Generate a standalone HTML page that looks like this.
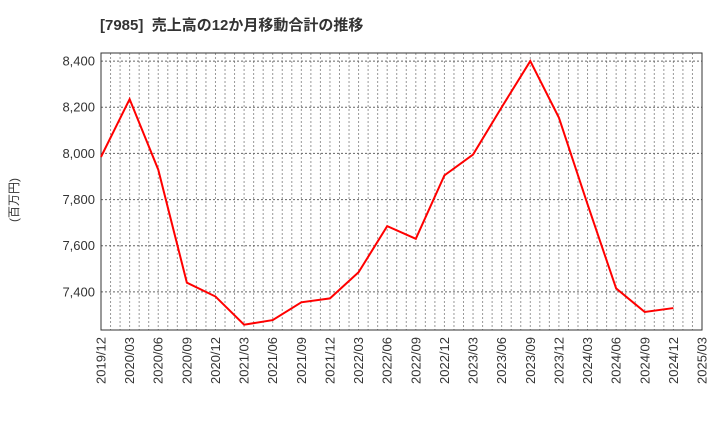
<!DOCTYPE html>
<html><head><meta charset="utf-8"><style>
body{margin:0;background:#fff;font-family:"Liberation Sans","Noto Sans CJK JP",sans-serif}
</style></head><body>
<svg width="720" height="440" xmlns="http://www.w3.org/2000/svg" font-family="Liberation Sans, Noto Sans CJK JP, sans-serif">
<text x="100" y="30" font-size="15" font-weight="bold" fill="#333">[7985]&#160;&#160;売上高の12か月移動合計の推移</text>
<text transform="translate(18,200) rotate(-90)" text-anchor="middle" font-size="12" fill="#333">(百万円)</text>
<g id="grid"></g><g id="axes"></g><g id="series"></g>
</svg>
<script>
const categories=["2019/12","2020/03","2020/06","2020/09","2020/12","2021/03","2021/06","2021/09","2021/12","2022/03","2022/06","2022/09","2022/12","2023/03","2023/06","2023/09","2023/12","2024/03","2024/06","2024/09","2024/12","2025/03"];
const salesValues=[7985,8235,7930,7440,7380,7258,7278,7355,7372,7485,7685,7630,7905,7995,8200,8400,8155,7780,7415,7313,7330];
const yTicks=[7400,7600,7800,8000,8200,8400];
const NS="http://www.w3.org/2000/svg";
const L=101,R=702,T=53,B=330,yMin=7235,yMax=8435;
const nQ=categories.length-1;
function xQ(i){return L+(R-L)*i/nQ;}
function xM(m){return L+(R-L)*m/(nQ*3);}
function y(v){return B-(v-yMin)/(yMax-yMin)*(B-T);}
function mk(tag,attrs,parent){const e=document.createElementNS(NS,tag);for(const k in attrs)e.setAttribute(k,attrs[k]);parent.appendChild(e);return e;}
const grid=document.getElementById('grid'),axes=document.getElementById('axes'),series=document.getElementById('series');
for(let m=1;m<nQ*3;m++){const l=mk('line',{x1:xM(m),x2:xM(m),y1:T,y2:B,stroke:'#999','stroke-dasharray':'2,2','stroke-width':1},grid);

}
yTicks.forEach(v=>{const l=mk('line',{x1:L,x2:R,y1:y(v),y2:y(v),stroke:'#666','stroke-dasharray':'2,2','stroke-width':1},grid);


const t=mk('text',{x:L-6,y:y(v)+4.5,'text-anchor':'end','font-size':13,fill:'#333'},axes);t.textContent=v.toLocaleString('en-US');

});
const frame=mk('rect',{x:L,y:T,width:R-L,height:B-T,fill:'none',stroke:'#333','stroke-width':1},axes);


categories.forEach((c,i)=>{const t=mk('text',{transform:`translate(${xQ(i)+4.5},${B+7}) rotate(-90)`,'text-anchor':'end','font-size':13,fill:'#333'},axes);t.textContent=c;

});
const pts=salesValues.map((v,i)=>xQ(i)+','+y(v)).join(' ');
const pl=mk('polyline',{points:pts,fill:'none',stroke:'#f00','stroke-width':2},series);


</script>
</body></html>
